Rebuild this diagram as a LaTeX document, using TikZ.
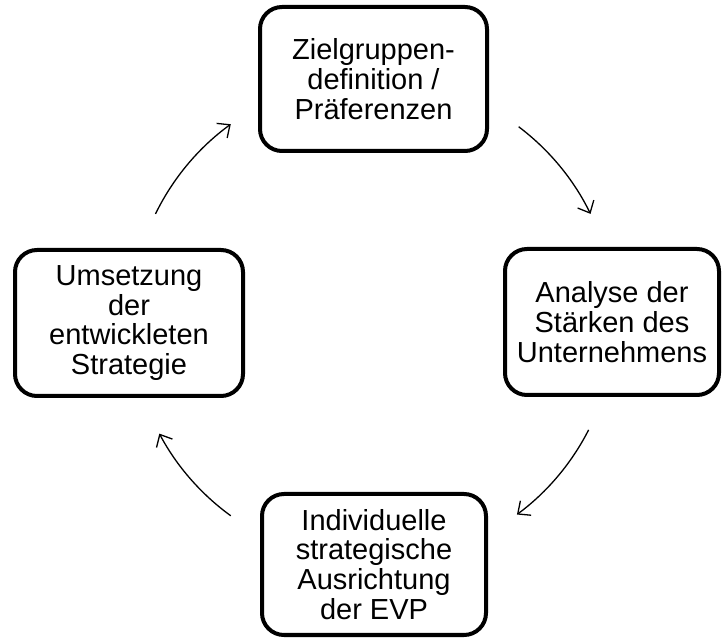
\documentclass[tikz,border=0pt]{standalone}
\usepackage{fontspec}
\setmainfont{Liberation Sans}
\usetikzlibrary{arrows.meta}
\begin{document}
\begin{tikzpicture}[x=1pt,y=1pt,
  stepbox/.style={draw=black, line width=4pt, rounded corners=22pt, fill=white,
    inner sep=0pt, align=center, font=\fontsize{29}{29.8}\selectfont},
  cyc/.style={line width=1.3pt, -{Straight Barb[length=10pt,width=18pt,line width=1.3pt]}}]
\useasboundingbox[fill=white] (0,0) rectangle (723,640);
\node[stepbox, minimum width=227pt, minimum height=144pt] (top) at (373.5,561) {Zielgruppen-\\definition /\\Präferenzen};
\node[stepbox, minimum width=214pt, minimum height=146pt] (right) at (612,318) {Analyse der\\Stärken des\\Unternehmens};
\node[stepbox, minimum width=224pt, minimum height=141pt] (bottom) at (374,75.5) {Individuelle\\strategische\\Ausrichtung\\der EVP};
\node[stepbox, minimum width=228pt, minimum height=146pt] (left) at (129,317) {Umsetzung\\der\\entwickleten\\Strategie};
\coordinate (c) at (373,320);
\coordinate (s1) at ([shift={(53:242)}]c);
\coordinate (s2) at ([shift={(-27:242)}]c);
\coordinate (s3) at ([shift={(-126:242)}]c);
\coordinate (s4) at ([shift={(154:242)}]c);
\draw[cyc] (s1) arc[start angle=53, end angle=26, radius=242];
\draw[cyc] (s2) arc[start angle=-27, end angle=-53.5, radius=242];
\draw[cyc] (s3) arc[start angle=-126, end angle=-152, radius=242];
\draw[cyc] (s4) arc[start angle=154, end angle=126, radius=242];
\end{tikzpicture}
\end{document}
